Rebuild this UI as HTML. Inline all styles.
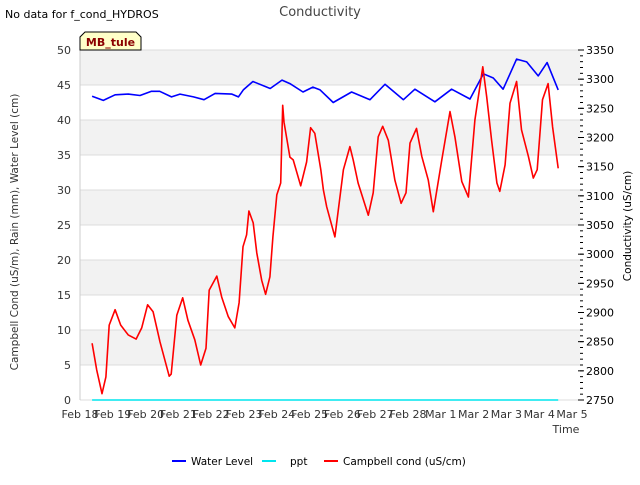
<!DOCTYPE html>
<html><head><meta charset="utf-8"><style>
body{margin:0;background:#fff;font-family:"Liberation Sans","DejaVu Sans",sans-serif;}
svg text{font-family:"DejaVu Sans","Liberation Sans",sans-serif;}
</style></head><body>
<svg id="chart" width="640" height="480" xmlns="http://www.w3.org/2000/svg">
<rect width="640" height="480" fill="#fff"/>
<g id="bands"></g>
<g id="plot"></g>
<g id="axes"></g>
<text x="5" y="18" font-size="11" fill="#000">No data for f_cond_HYDROS</text>
<text x="320" y="16" font-size="13" fill="#444" text-anchor="middle">Conductivity</text>
<g>
<path d="M80,50 L80,37 L85,32 L136,32 L141,37 L141,50 Z" fill="#ffffc8" stroke="#000" stroke-width="1"/>
<text x="110.5" y="46" font-size="11" font-weight="bold" fill="#8b0000" text-anchor="middle">MB_tule</text>
</g>
<text transform="translate(18,232) rotate(-90)" font-size="10.5" fill="#333" text-anchor="middle">Campbell Cond (uS/m), Rain (mm), Water Level (cm)</text>
<text transform="translate(631,226) rotate(-90)" font-size="10.5" fill="#000" text-anchor="middle">Conductivity (uS/cm)</text>
<text x="566" y="433" font-size="11" fill="#333" text-anchor="middle">Time</text>
<g>
<line x1="172" y1="461" x2="186" y2="461" stroke="#0000ff" stroke-width="2"/>
<text x="191" y="465" font-size="10.5" fill="#000">Water Level</text>
<line x1="262" y1="461" x2="276" y2="461" stroke="#00e5ee" stroke-width="2"/>
<text x="290" y="465" font-size="10.5" fill="#000">ppt</text>
<line x1="324" y1="461" x2="338" y2="461" stroke="#ff0000" stroke-width="2"/>
<text x="343" y="465" font-size="10.5" fill="#000">Campbell cond (uS/cm)</text>
</g>
</svg>
<script>
const xTickLabels=["Feb 18","Feb 19","Feb 20","Feb 21","Feb 22","Feb 23","Feb 24","Feb 25","Feb 26","Feb 27","Feb 28","Mar 1","Mar 2","Mar 3","Mar 4","Mar 5"];
const leftTicks=[0,5,10,15,20,25,30,35,40,45,50];
const rightTicks=[2750,2800,2850,2900,2950,3000,3050,3100,3150,3200,3250,3300,3350];
const redDays=[0.37,0.51,0.67,0.79,0.89,1.07,1.24,1.47,1.71,1.88,2.06,2.23,2.44,2.72,2.78,2.95,3.13,3.29,3.5,3.68,3.84,3.94,4.17,4.32,4.52,4.72,4.85,4.97,5.08,5.15,5.28,5.39,5.54,5.66,5.79,5.88,6.0,6.12,6.18,6.22,6.4,6.5,6.73,6.91,7.03,7.16,7.34,7.42,7.52,7.77,8.03,8.23,8.33,8.48,8.79,8.94,9.09,9.23,9.4,9.6,9.79,9.94,10.06,10.26,10.42,10.62,10.77,11.03,11.28,11.43,11.64,11.84,12.04,12.28,12.4,12.55,12.71,12.8,12.96,13.11,13.31,13.46,13.67,13.82,13.94,14.1,14.27,14.41,14.58];
const redValues=[8.1,4.3,0.9,3.3,10.7,12.9,10.7,9.3,8.7,10.3,13.6,12.6,8.3,3.4,3.7,12.1,14.6,11.4,8.6,5.0,7.4,15.7,17.7,14.7,11.9,10.3,13.9,21.9,23.6,27.0,25.3,21,17.1,15.1,17.6,23.3,29.3,31,42.1,39.7,34.7,34.3,30.6,34,38.9,38.1,32.9,30,27.6,23.3,32.9,36.2,34.3,31,26.4,29.6,37.6,39.1,37.1,31.4,28.1,29.6,36.7,38.8,34.8,31.4,26.9,34.3,41.2,37.6,31.2,29,40,47.6,43.3,37.1,31,29.8,33.6,42.4,45.5,38.6,34.8,31.7,32.9,42.9,45.2,39,33.1];
const blueDays=[0.37,0.71,1.07,1.47,1.83,2.18,2.43,2.79,3.05,3.46,3.78,4.12,4.63,4.83,4.98,5.27,5.8,6.16,6.4,6.8,7.1,7.32,7.72,8.28,8.84,9.3,9.86,10.21,10.82,11.33,11.89,12.3,12.6,12.9,13.31,13.62,13.97,14.24,14.58];
const blueValues=[43.4,42.8,43.6,43.7,43.5,44.1,44.1,43.3,43.7,43.3,42.9,43.8,43.7,43.3,44.3,45.5,44.5,45.7,45.2,44,44.7,44.3,42.5,44,42.9,45.1,42.9,44.4,42.6,44.4,43,46.6,46,44.4,48.7,48.3,46.3,48.2,44.3];
const pptDays=[0.37,14.58];
const pptValues=[0,0];

const NS="http://www.w3.org/2000/svg";
const X0=80,X1=580,Y0=400,Y1=50,DAYPX=32.8;
const xs=d=>X0+d*DAYPX;
const ys=v=>Y0-(v-0)/(50-0)*(Y0-Y1);
const yr=v=>Y0-(v-2750)/(3350-2750)*(Y0-Y1);
function mk(tag,attrs,parent){const e=document.createElementNS(NS,tag);for(const k in attrs)e.setAttribute(k,attrs[k]);parent.appendChild(e);return e;}
const bands=document.getElementById('bands'),plot=document.getElementById('plot'),axes=document.getElementById('axes');
for(let i=0;i<leftTicks.length-1;i++){
  if(i%2===0){const r=mk('rect',{x:X0,y:ys(leftTicks[i+1]+5),width:X1-X0,height:ys(leftTicks[i])-ys(leftTicks[i]+5),fill:'#f2f2f2'},bands);}
}
// shaded bands 5-10,15-20,...,45-50
bands.innerHTML='';
for(let v=5;v<50;v+=10){const r=mk('rect',{x:X0,y:ys(v+5),width:X1-X0,height:ys(v)-ys(v+5),fill:'#f2f2f2'},bands);

}
leftTicks.forEach(v=>{const l=mk('line',{x1:X0,x2:X1,y1:ys(v),y2:ys(v),stroke:'#dcdcdc','stroke-width':1},bands);


const t=mk('text',{x:71,y:ys(v)+4,'font-size':11,fill:'#333','text-anchor':'end'},axes);t.textContent=v;

});
mk('line',{x1:X0,x2:X0,y1:Y1,y2:Y0,stroke:'#ccc'},axes);
rightTicks.forEach(v=>{const t=mk('text',{x:586,y:yr(v)+4,'font-size':11,fill:'#000'},axes);t.textContent=v;


mk('line',{x1:X1-2,x2:X1+4,y1:yr(v),y2:yr(v),stroke:'#000'},axes);});
for(let v=2750;v<=3350;v+=10){mk('line',{x1:X1,x2:X1+3,y1:yr(v),y2:yr(v),stroke:'#000'},axes);}
xTickLabels.forEach((s,i)=>{const t=mk('text',{x:xs(i),y:418,'font-size':11,fill:'#333','text-anchor':'middle'},axes);t.textContent=s;

});
function line(days,vals,color,name){const p=mk('polyline',{points:days.map((d,i)=>xs(d).toFixed(1)+','+ys(vals[i]).toFixed(1)).join(' '),fill:'none',stroke:color,'stroke-width':1.6,'stroke-linejoin':'round'},plot);

}
line(pptDays,pptValues,'#00e5ee','ppt-line');
line(blueDays,blueValues,'#0000ff','water-level-line');
line(redDays,redValues,'#ff0000','campbell-cond-line');
</script>
</body></html>
